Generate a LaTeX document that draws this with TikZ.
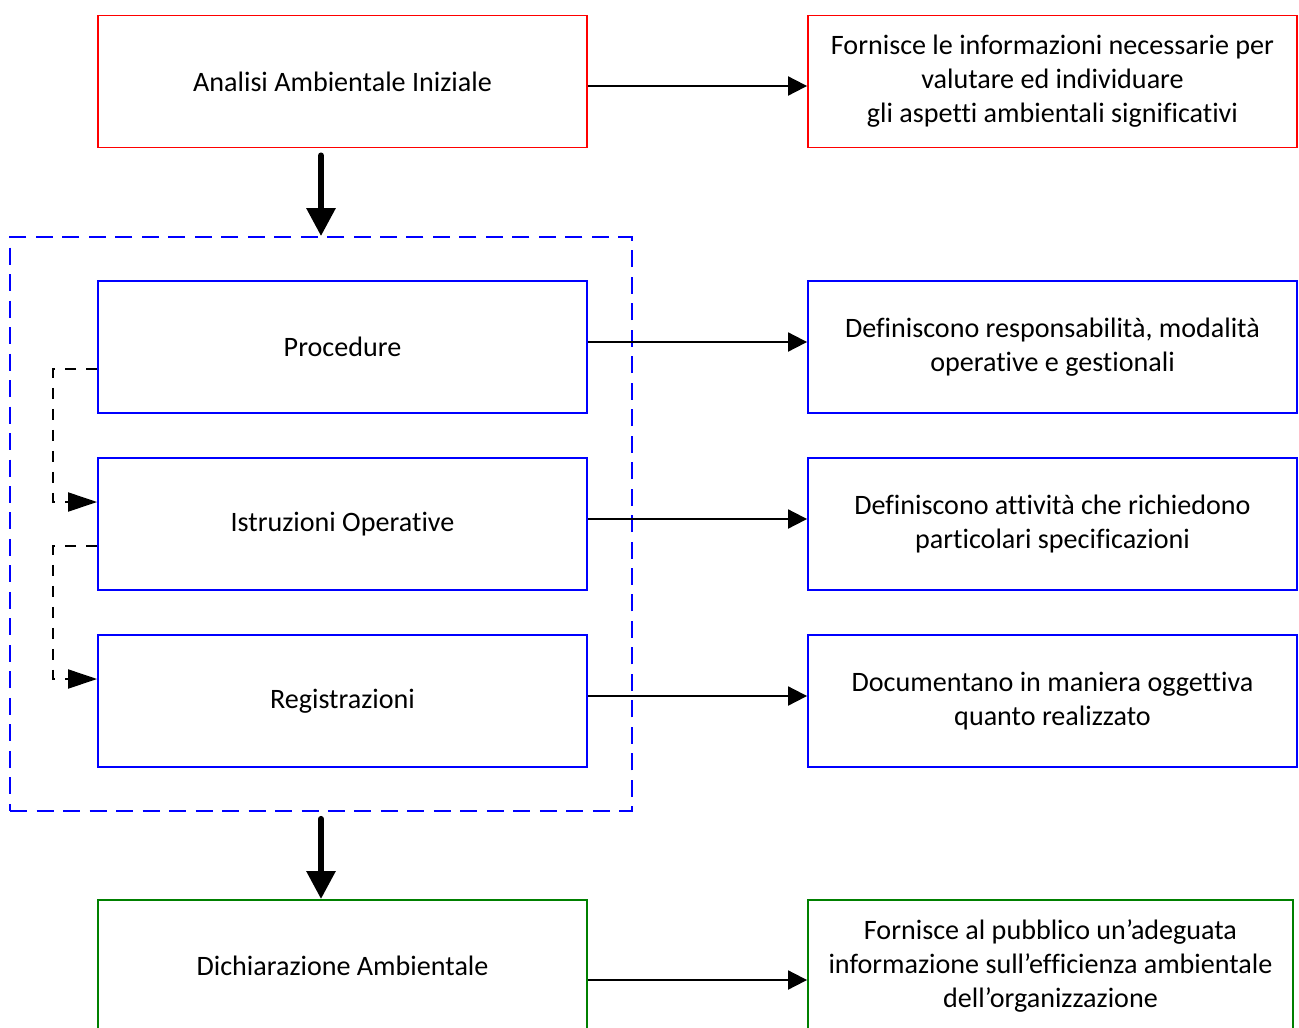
\documentclass[tikz,border=0pt]{standalone}
\usepackage{fontspec}
\setmainfont{Carlito}[Ligatures=NoCommon]
\usepackage{xcolor}
\usetikzlibrary{arrows.meta}
\definecolor{boxgreen}{RGB}{0,128,0}

\begin{document}
\begin{tikzpicture}[x=0.02cm, y=-0.02cm,
    box/.style={draw, line width=1.1pt, minimum width=9.78cm, minimum height=2.64cm,
      inner sep=0pt, align=center, font=\fontsize{16}{19.3}\selectfont},
    groupbox/.style={draw=blue, line width=1.1pt, dash pattern=on 0.34cm off 0.19cm,
      minimum width=12.44cm, minimum height=11.48cm, inner sep=0pt},
    thinarrow/.style={line width=1.1pt, -{Triangle[length=0.38cm, width=0.38cm]}},
    bigarrow/.style={line width=3.4pt, line cap=round, -{Triangle[length=0.56cm, width=0.56cm]}},
    linkarrow/.style={line width=1.1pt, dash pattern=on 0.22cm off 0.2cm,
      -{Triangle[length=0.58cm, width=0.38cm]}}]
    \useasboundingbox (0,0) rectangle (1299,1028);
    % dashed group of documents
    \node[groupbox] (grp) at (321,524) {};
    % left column
    \node[box, draw=red] (aai) at (342.5,81.5) {Analisi Ambientale Iniziale};
    \node[box, draw=blue] (proc) at (342.5,347) {Procedure};
    \node[box, draw=blue] (istr) at (342.5,524) {Istruzioni Operative};
    \node[box, draw=blue] (regi) at (342.5,701) {Registrazioni};
    \node[box, draw=boxgreen] (dich) at (342.5,966) {Dichiarazione Ambientale};
    % right column
    \node[box, draw=red] (info) at (1052.5,81.5)
      {Fornisce le informazioni necessarie per\\valutare ed individuare\\gli aspetti ambientali significativi};
    \node[box, draw=blue] (defproc) at (1052.5,347)
      {Definiscono responsabilità, modalità\\operative e gestionali};
    \node[box, draw=blue] (defistr) at (1052.5,524)
      {Definiscono attività che richiedono\\particolari specificazioni};
    \node[box, draw=blue] (docregi) at (1052.5,701)
      {Documentano in maniera oggettiva\\quanto realizzato};
    \node[box, draw=boxgreen, minimum width=9.7cm] (pubinfo) at (1050.5,966)
      {Fornisce al pubblico un’adeguata\\informazione sull’efficienza ambientale\\dell’organizzazione};
    % connectors
    \draw[thinarrow] ([yshift=-0.09cm]aai.east) -- ([yshift=-0.09cm]info.west);
    \draw[thinarrow] ([yshift=0.1cm]proc.east) -- ([yshift=0.1cm]defproc.west);
    \draw[thinarrow] ([yshift=0.1cm]istr.east) -- ([yshift=0.1cm]defistr.west);
    \draw[thinarrow] ([yshift=0.1cm]regi.east) -- ([yshift=0.1cm]docregi.west);
    \draw[thinarrow] ([yshift=-0.28cm]dich.east) -- ([yshift=-0.28cm]pubinfo.west);
    \draw[bigarrow, shorten <=0.14cm] (aai.south -| grp.north) -- (grp.north);
    \draw[bigarrow, shorten <=0.14cm] (grp.south) -- (grp.south |- dich.north);
    \draw[linkarrow] ([yshift=-0.44cm]proc.west) -- ++(-0.88cm,0) |- ([yshift=0.44cm]istr.west);
    \draw[linkarrow] ([yshift=-0.44cm]istr.west) -- ++(-0.88cm,0) |- ([yshift=0.44cm]regi.west);
\end{tikzpicture}
\end{document}
